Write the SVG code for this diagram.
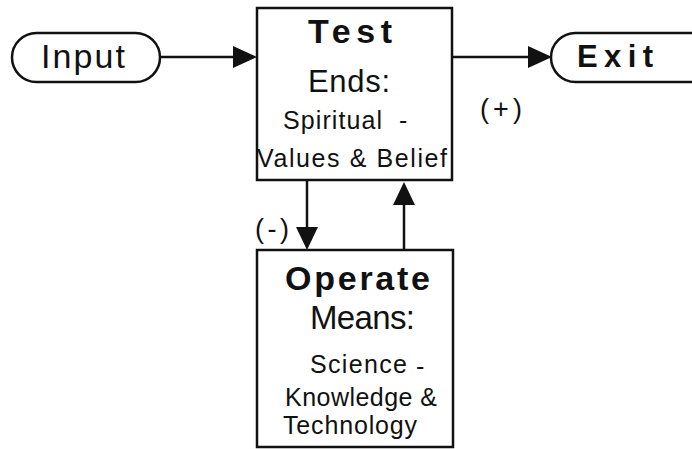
<svg xmlns="http://www.w3.org/2000/svg" width="692" height="449" viewBox="0 0 692 449">
  <style>
    .box { fill: #ffffff; stroke: #111; stroke-width: 2.5; }
    .pill { fill: #ffffff; stroke: #111; stroke-width: 2.5; }
    .edge { stroke: #111; stroke-width: 2.5; fill: none; }
    .head { fill: #111; }
    text { font-family: "Liberation Sans", Arial, sans-serif; fill: #111; }
    .title { font-size: 34px; font-weight: bold; }
    .big { font-size: 33px; }
    .small { font-size: 25px; }
    .sign { font-size: 27px; }
  </style>
  <rect width="692" height="449" fill="#ffffff"/>

  <g id="connectors">
    <line class="edge" x1="160" y1="57" x2="240" y2="57"/>
    <line class="edge" x1="452" y1="57" x2="535" y2="57"/>
    <line class="edge" x1="307" y1="181" x2="307" y2="232"/>
    <line class="edge" x1="404" y1="250" x2="404" y2="200"/>
    <path class="head" d="M233,46 L257,57 L233,68 Z"/>
    <path class="head" d="M528,46 L552,57 L528,68 Z"/>
    <path class="head" d="M296,227 L307,250 L318,227 Z"/>
    <path class="head" d="M393,205 L404,182 L415,205 Z"/>
    <text class="sign" x="480" y="118" textLength="42" lengthAdjust="spacing">(+)</text>
    <text class="sign" x="255" y="238" textLength="34" lengthAdjust="spacing">(-)</text>
  </g>

  <g id="input">
    <rect class="pill" x="12" y="33" width="148" height="49" rx="24.5"/>
    <text class="big" x="41" y="68" textLength="84" lengthAdjust="spacing" style="font-size:34px">Input</text>
  </g>

  <g id="exit">
    <rect class="pill" x="551" y="33" width="170" height="49" rx="24.5"/>
    <text class="title" x="577" y="67" textLength="76" lengthAdjust="spacing" style="font-size:31px">Exit</text>
  </g>

  <g id="test">
    <rect class="box" x="257" y="8" width="195" height="172"/>
    <text class="title" x="308" y="43" textLength="84" lengthAdjust="spacing">Test</text>
    <text class="big" x="308" y="92" textLength="82" lengthAdjust="spacing" style="font-size:31px">Ends:</text>
    <text class="small" x="283" y="129" textLength="99" lengthAdjust="spacing">Spiritual</text>
    <text class="small" x="399" y="129">-</text>
    <text class="small" x="257" y="167" textLength="190" lengthAdjust="spacing">Values &amp; Belief</text>
  </g>

  <g id="operate">
    <rect class="box" x="257" y="250" width="196" height="197"/>
    <text class="title" x="285" y="290" textLength="145" lengthAdjust="spacing">Operate</text>
    <text class="big" x="310" y="329" textLength="105" lengthAdjust="spacing">Means:</text>
    <text class="small" x="310" y="373" textLength="97" lengthAdjust="spacing">Science</text>
    <text class="small" x="416" y="375">-</text>
    <text class="small" x="285" y="406" textLength="152" lengthAdjust="spacing">Knowledge &amp;</text>
    <text class="small" x="283" y="434" textLength="134" lengthAdjust="spacing">Technology</text>
  </g>
</svg>
